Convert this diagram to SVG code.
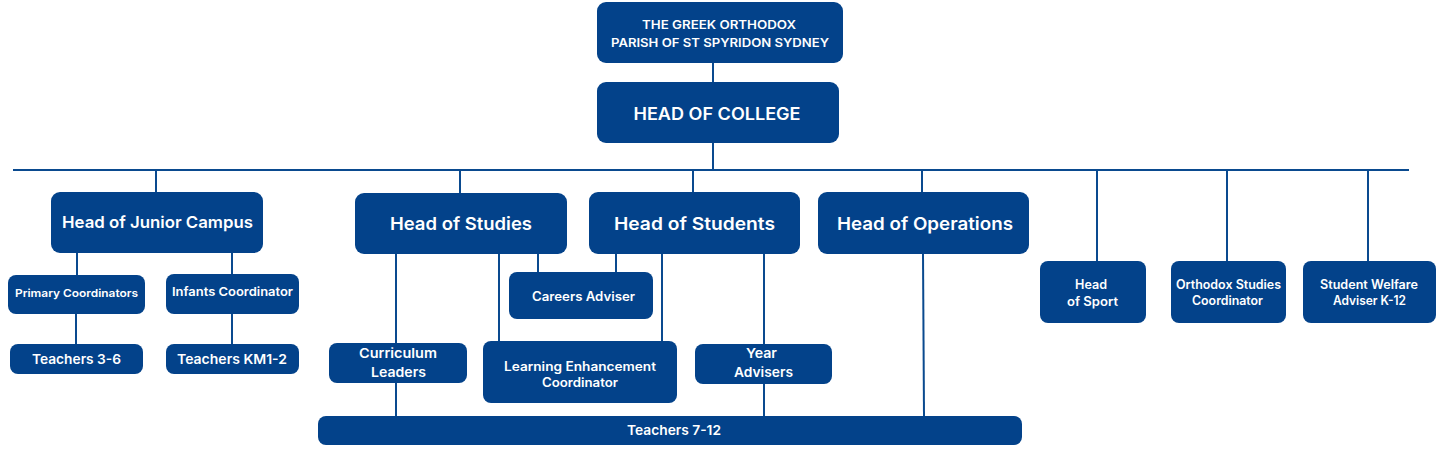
<svg xmlns="http://www.w3.org/2000/svg" width="1440" height="452" viewBox="0 0 1440 452">
<style>
.box{fill:#03428a;}
.t{font-family:Inter,"Open Sans","Liberation Sans",sans-serif;font-weight:600;fill:#ffffff;text-anchor:middle;}
.c{stroke:#0a4a8f;stroke-width:2;fill:none;}
</style>
<rect width="1440" height="452" fill="#ffffff"/>
<g id="connectors" class="c">
<line x1="713" y1="63" x2="713" y2="82"/>
<line x1="713" y1="143" x2="713" y2="170"/>
<line x1="13" y1="170" x2="1409" y2="170"/>
<line x1="156" y1="170" x2="156" y2="192"/>
<line x1="460" y1="170" x2="460" y2="193"/>
<line x1="693" y1="170" x2="693" y2="192"/>
<line x1="922" y1="170" x2="922" y2="192"/>
<line x1="1097" y1="170" x2="1097" y2="261"/>
<line x1="1227" y1="170" x2="1227" y2="261"/>
<line x1="1368" y1="170" x2="1368" y2="261"/>
<line x1="77" y1="253" x2="77" y2="275"/>
<line x1="232" y1="253" x2="232" y2="274"/>
<line x1="76" y1="314" x2="76" y2="344"/>
<line x1="232" y1="314" x2="232" y2="344"/>
<line x1="396" y1="254" x2="396" y2="343"/>
<line x1="396" y1="383" x2="396" y2="416"/>
<line x1="499" y1="254" x2="499" y2="341"/>
<line x1="538" y1="254" x2="538" y2="272"/>
<line x1="616" y1="254" x2="616" y2="272"/>
<line x1="662" y1="254" x2="662" y2="341"/>
<line x1="764" y1="254" x2="764" y2="344"/>
<line x1="764" y1="384" x2="764" y2="416"/>
<line x1="923" y1="254" x2="924" y2="416"/>
</g>
<g id="parish"><rect class="box" x="597" y="2" width="246" height="61" rx="9"/>
<text class="t" x="719" y="29" font-size="11.8" textLength="154" lengthAdjust="spacingAndGlyphs">THE GREEK ORTHODOX</text>
<text class="t" x="720" y="47" font-size="11.8" textLength="218" lengthAdjust="spacingAndGlyphs">PARISH OF ST SPYRIDON SYDNEY</text></g>
<g id="head-college"><rect class="box" x="597" y="82" width="242" height="61" rx="9"/>
<text class="t" x="717" y="120" font-size="17" font-weight="700" textLength="167" lengthAdjust="spacingAndGlyphs">HEAD OF COLLEGE</text></g>
<g id="head-junior"><rect class="box" x="51" y="192" width="212" height="61" rx="9"/>
<text class="t" x="157.5" y="228" font-size="16.5" textLength="191" lengthAdjust="spacingAndGlyphs">Head of Junior Campus</text></g>
<g id="head-studies"><rect class="box" x="355" y="193" width="212" height="61" rx="9"/>
<text class="t" x="461" y="230" font-size="17.5" textLength="142" lengthAdjust="spacingAndGlyphs">Head of Studies</text></g>
<g id="head-students"><rect class="box" x="589" y="192" width="211" height="62" rx="9"/>
<text class="t" x="694.5" y="230" font-size="17.5" textLength="161" lengthAdjust="spacingAndGlyphs">Head of Students</text></g>
<g id="head-operations"><rect class="box" x="818" y="192" width="211" height="62" rx="9"/>
<text class="t" x="925" y="230" font-size="17.5" textLength="176" lengthAdjust="spacingAndGlyphs">Head of Operations</text></g>
<g id="primary-coord"><rect class="box" x="8" y="275" width="137" height="39" rx="8"/>
<text class="t" x="76.5" y="297" font-size="10.8" textLength="123" lengthAdjust="spacingAndGlyphs">Primary Coordinators</text></g>
<g id="infants-coord"><rect class="box" x="166" y="274" width="133" height="40" rx="8"/>
<text class="t" x="232.5" y="296" font-size="12.3" textLength="121" lengthAdjust="spacingAndGlyphs">Infants Coordinator</text></g>
<g id="teachers-36"><rect class="box" x="10" y="344" width="133" height="30" rx="8"/>
<text class="t" x="76.5" y="364" font-size="13.5" textLength="89" lengthAdjust="spacingAndGlyphs">Teachers 3-6</text></g>
<g id="teachers-km12"><rect class="box" x="166" y="344" width="133" height="30" rx="8"/>
<text class="t" x="232" y="364" font-size="13.5" textLength="110" lengthAdjust="spacingAndGlyphs">Teachers KM1-2</text></g>
<g id="careers"><rect class="box" x="509" y="272" width="144" height="47" rx="8"/>
<text class="t" x="583.5" y="301" font-size="12.5" textLength="103" lengthAdjust="spacingAndGlyphs">Careers Adviser</text></g>
<g id="curriculum"><rect class="box" x="329" y="343" width="138" height="40" rx="8"/>
<text class="t" x="398" y="358" font-size="13.5" textLength="78" lengthAdjust="spacingAndGlyphs">Curriculum</text>
<text class="t" x="398.5" y="377" font-size="13.5" textLength="55" lengthAdjust="spacingAndGlyphs">Leaders</text></g>
<g id="learning"><rect class="box" x="483" y="341" width="194" height="62" rx="8"/>
<text class="t" x="580" y="371" font-size="12.5" textLength="152" lengthAdjust="spacingAndGlyphs">Learning Enhancement</text>
<text class="t" x="580" y="387" font-size="12.5" textLength="76" lengthAdjust="spacingAndGlyphs">Coordinator</text></g>
<g id="year-advisers"><rect class="box" x="695" y="344" width="137" height="40" rx="8"/>
<text class="t" x="761.5" y="358" font-size="13.5" textLength="31" lengthAdjust="spacingAndGlyphs">Year</text>
<text class="t" x="763.5" y="377" font-size="13.5" textLength="59" lengthAdjust="spacingAndGlyphs">Advisers</text></g>
<g id="teachers-712"><rect class="box" x="318" y="416" width="704" height="29" rx="8"/>
<text class="t" x="674" y="435" font-size="13.5" textLength="94" lengthAdjust="spacingAndGlyphs">Teachers 7-12</text></g>
<g id="head-sport"><rect class="box" x="1040" y="261" width="106" height="62" rx="8"/>
<text class="t" x="1091" y="289" font-size="12.5" textLength="32" lengthAdjust="spacingAndGlyphs">Head</text>
<text class="t" x="1092.5" y="306" font-size="12.5" textLength="51" lengthAdjust="spacingAndGlyphs">of Sport</text></g>
<g id="orthodox"><rect class="box" x="1171" y="261" width="115" height="62" rx="8"/>
<text class="t" x="1228.5" y="289" font-size="12.5" textLength="105" lengthAdjust="spacingAndGlyphs">Orthodox Studies</text>
<text class="t" x="1227.5" y="305" font-size="12.5" textLength="71" lengthAdjust="spacingAndGlyphs">Coordinator</text></g>
<g id="welfare"><rect class="box" x="1303" y="261" width="133" height="62" rx="8"/>
<text class="t" x="1369" y="289" font-size="12.5" textLength="98" lengthAdjust="spacingAndGlyphs">Student Welfare</text>
<text class="t" x="1369.5" y="305" font-size="12.5" textLength="73" lengthAdjust="spacingAndGlyphs">Adviser K-12</text></g>
</svg>
